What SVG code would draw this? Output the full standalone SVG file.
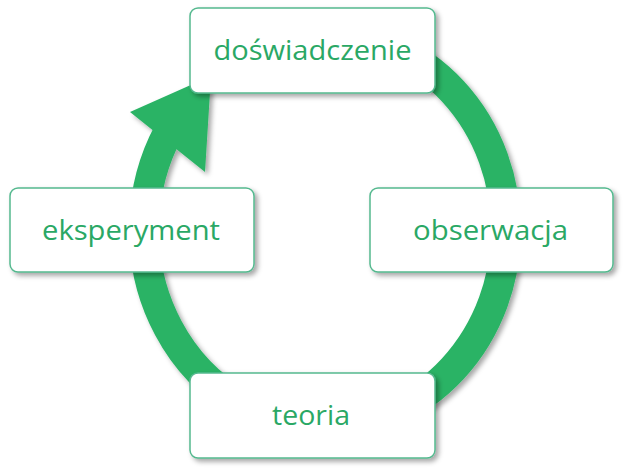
<svg xmlns="http://www.w3.org/2000/svg" width="627" height="475" viewBox="0 0 627 475">
  <defs>
    <filter id="sh" x="-20%" y="-20%" width="140%" height="140%">
      <feDropShadow dx="3" dy="3" stdDeviation="2.5" flood-color="#000" flood-opacity="0.35"/>
    </filter>
    <style>
      .box { fill: #ffffff; stroke: #55b98f; stroke-width: 1.5; filter: url(#sh); }
      .lbl { font-family: "Open Sans", "Noto Sans", sans-serif; font-size: 28px; fill: #2aa865; text-anchor: middle; }
      .ring { fill: none; stroke: #29b365; stroke-width: 30; }
      .head { fill: #29b365; }
    </style>
  </defs>
  <rect width="627" height="475" fill="#ffffff"/>
  <g id="connectors" filter="url(#sh)">
    <path class="ring" d="M325,34 A181,196 0 0 1 325,426 A181,196 0 0 1 168.3,132"/>
    <polygon class="head" points="130,112 211,76 205,172"/>
  </g>
  <g id="node-doswiadczenie">
    <rect class="box" x="190" y="8" width="245" height="85" rx="8"/>
    <text class="lbl" x="312.5" y="60" textLength="198" lengthAdjust="spacingAndGlyphs">doświadczenie</text>
  </g>
  <g id="node-eksperyment">
    <rect class="box" x="10" y="188" width="244" height="84" rx="8"/>
    <text class="lbl" x="131" y="240" textLength="178" lengthAdjust="spacingAndGlyphs">eksperyment</text>
  </g>
  <g id="node-obserwacja">
    <rect class="box" x="370" y="188" width="243" height="84" rx="8"/>
    <text class="lbl" x="490.5" y="240" textLength="155" lengthAdjust="spacingAndGlyphs">obserwacja</text>
  </g>
  <g id="node-teoria">
    <rect class="box" x="190" y="373" width="245" height="85" rx="8"/>
    <text class="lbl" x="311" y="425" textLength="78" lengthAdjust="spacingAndGlyphs">teoria</text>
  </g>
</svg>
